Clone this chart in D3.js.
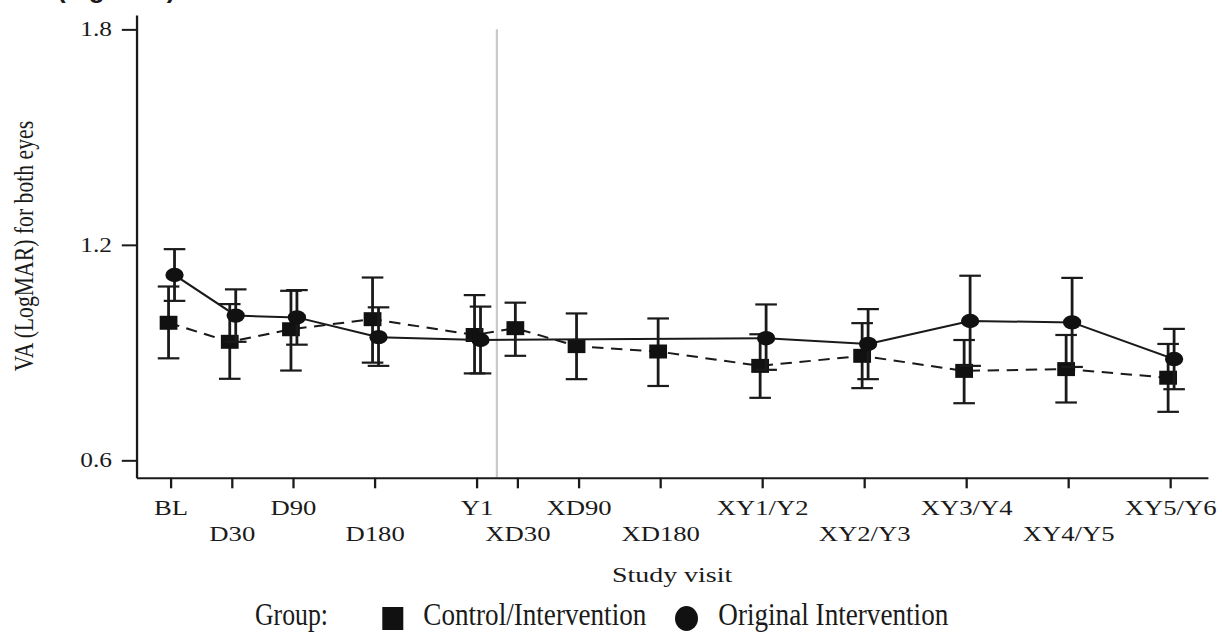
<!DOCTYPE html>
<html>
<head>
<meta charset="utf-8">
<script src="https://cdn.jsdelivr.net/npm/d3@7"></script>
<style>
  body { margin: 0; background: #fff; }
  text { font-family: "Liberation Serif", "Times New Roman", serif; fill: #1a1a1a; }
</style>
</head>
<body>
<script>
// visits on the x axis, with their spacing along the axis
const visits = ["BL", "D30", "D90", "D180", "Y1", "XD30", "XD90", "XD180",
  "XY1/Y2", "XY2/Y3", "XY3/Y4", "XY4/Y5", "XY5/Y6"];
const visitPos = [0, 3, 6, 10, 15, 17, 20, 24, 29, 34, 39, 44, 49];
const crossoverPos = 16;

// Control/Intervention group (squares, dashed)
const controlMean = [0.983, 0.930, 0.965, 0.993, 0.949, 0.968, 0.918, 0.903, 0.863, 0.891, 0.849, 0.854, 0.830];
const controlLo   = [0.884, 0.827, 0.850, 0.872, 0.842, 0.891, 0.826, 0.807, 0.774, 0.801, 0.759, 0.761, 0.735];
const controlHi   = [1.084, 1.035, 1.072, 1.109, 1.060, 1.039, 1.009, 0.995, 0.951, 0.982, 0.935, 0.949, 0.924];

// Original Intervention group (circles, solid) - no crossover visits
const originalVisits = ["BL", "D30", "D90", "D180", "Y1", "XY1/Y2", "XY2/Y3", "XY3/Y4", "XY4/Y5", "XY5/Y6"];
const originalMean = [1.116, 1.003, 0.998, 0.943, 0.935, 0.940, 0.924, 0.988, 0.984, 0.882];
const originalLo   = [1.044, 0.930, 0.922, 0.863, 0.842, 0.852, 0.826, 0.863, 0.860, 0.798];
const originalHi   = [1.188, 1.076, 1.074, 1.026, 1.028, 1.034, 1.021, 1.114, 1.108, 0.966];

const yTicks = [0.6, 1.2, 1.8];

const sx = 1.27; // the source figure is stretched sideways
const ink = "#1a1a1a";

const svg = d3.select("body").append("svg")
  .attr("width", 1222)
  .attr("height", 632);

// figure caption cut off at the top edge
svg.append("text")
  .attr("x", 57).attr("y", -2)
  .style("font-family", "'Liberation Sans', Arial, sans-serif")
  .style("font-weight", "bold")
  .style("font-size", "26px")
  .text("(Figure 2)");

const g = svg.append("g").attr("transform", "scale(" + sx + ",1)");

const x = d3.scaleLinear()
  .domain([-1.67, 50.85])
  .range([107.4, 951]);

const y = d3.scaleLinear()
  .domain([0.5516, 1.840])
  .range([477.7, 15]);

const posOf = {};
visits.forEach((v, i) => posOf[v] = visitPos[i]);

const control = visits.map((v, i) => ({pos: visitPos[i], mean: controlMean[i], lo: controlLo[i], hi: controlHi[i]}));
const original = originalVisits.map((v, i) => ({pos: posOf[v], mean: originalMean[i], lo: originalLo[i], hi: originalHi[i]}));

// crossover marker
g.append("line")
  .attr("x1", x(crossoverPos)).attr("x2", x(crossoverPos))
  .attr("y1", y(1.8)).attr("y2", y.range()[0])
  .attr("stroke", "#c8c8c8")
  .attr("stroke-width", 1.7);

// axes
const yAxis = g.append("g")
  .attr("transform", "translate(" + x.range()[0] + ",0)")
  .call(d3.axisLeft(y).tickValues(yTicks).tickFormat(d3.format(".1f"))
    .tickSize(11.5).tickSizeOuter(0).tickPadding(7.7));
yAxis.select(".domain").attr("stroke", ink).attr("stroke-width", 1.8);
yAxis.selectAll(".tick line").attr("stroke", ink).attr("stroke-width", 2);
yAxis.selectAll(".tick text")
  .attr("fill", ink)
  .style("font-family", "'Liberation Serif', 'Times New Roman', serif")
  .style("font-size", "20px");

const xAxis = g.append("g")
  .attr("transform", "translate(0," + y.range()[0] + ")")
  .call(d3.axisBottom(x).tickValues(visitPos).tickFormat((d, i) => visits[i])
    .tickSize(10.6).tickSizeOuter(0));
xAxis.select(".domain").attr("stroke", ink).attr("stroke-width", 2);
xAxis.selectAll(".tick line").attr("stroke", ink).attr("stroke-width", 1.8);
xAxis.selectAll(".tick text")
  .attr("fill", ink)
  .attr("dy", 0)
  .attr("y", (d, i) => i % 2 === 0 ? 37.3 : 63.3)
  .style("font-family", "'Liberation Serif', 'Times New Roman', serif")
  .style("font-size", "21px");

// axis titles
g.append("text")
  .attr("transform", "translate(26.2,246) rotate(-90)")
  .attr("text-anchor", "middle")
  .style("font-size", "21.7px")
  .text("VA (LogMAR) for both eyes");

g.append("text")
  .attr("x", (x.range()[0] + x.range()[1]) / 2)
  .attr("y", 581.7)
  .attr("text-anchor", "middle")
  .style("font-size", "22px")
  .text("Study visit");

// error bars, lines and markers
function drawSeries(data, offset, dashed, marker) {
  const bars = g.append("g").attr("stroke", ink).attr("stroke-width", 2.2);
  const cap = 8.5;
  data.forEach(d => {
    const cx = x(d.pos) + offset;
    bars.append("line").attr("x1", cx).attr("x2", cx).attr("y1", y(d.lo)).attr("y2", y(d.hi));
    bars.append("line").attr("x1", cx - cap).attr("x2", cx + cap).attr("y1", y(d.lo)).attr("y2", y(d.lo));
    bars.append("line").attr("x1", cx - cap).attr("x2", cx + cap).attr("y1", y(d.hi)).attr("y2", y(d.hi));
  });

  const line = d3.line()
    .x(d => x(d.pos) + offset)
    .y(d => y(d.mean));

  g.append("path")
    .datum(data)
    .attr("fill", "none")
    .attr("stroke", ink)
    .attr("stroke-width", 2)
    .attr("stroke-dasharray", dashed ? "9,6" : null)
    .attr("d", line);

  if (marker === "square") {
    g.selectAll(null)
      .data(data)
      .enter()
      .append("rect")
      .attr("x", d => x(d.pos) + offset - 7)
      .attr("y", d => y(d.mean) - 7)
      .attr("width", 14)
      .attr("height", 14)
      .attr("fill", "#111");
  } else {
    g.selectAll(null)
      .data(data)
      .enter()
      .append("circle")
      .attr("cx", d => x(d.pos) + offset)
      .attr("cy", d => y(d.mean))
      .attr("r", 7.2)
      .attr("fill", "#111");
  }
}

drawSeries(control, -1.5, true, "square");
drawSeries(original, 3.2, false, "circle");

// legend (not stretched in the source)
const legend = svg.append("g");
legend.append("text")
  .attr("x", 255).attr("y", 625)
  .attr("textLength", 73).attr("lengthAdjust", "spacingAndGlyphs")
  .style("font-size", "31px")
  .text("Group:");
legend.append("rect")
  .attr("x", 382.3).attr("y", 607)
  .attr("width", 21).attr("height", 23)
  .attr("fill", "#111");
legend.append("text")
  .attr("x", 423.3).attr("y", 625)
  .attr("textLength", 223).attr("lengthAdjust", "spacingAndGlyphs")
  .style("font-size", "31px")
  .text("Control/Intervention");
legend.append("ellipse")
  .attr("cx", 686.5).attr("cy", 618.5)
  .attr("rx", 11.5).attr("ry", 12.5)
  .attr("fill", "#111");
legend.append("text")
  .attr("x", 718.3).attr("y", 625)
  .attr("textLength", 230).attr("lengthAdjust", "spacingAndGlyphs")
  .style("font-size", "31px")
  .text("Original Intervention");
</script>
</body>
</html>
